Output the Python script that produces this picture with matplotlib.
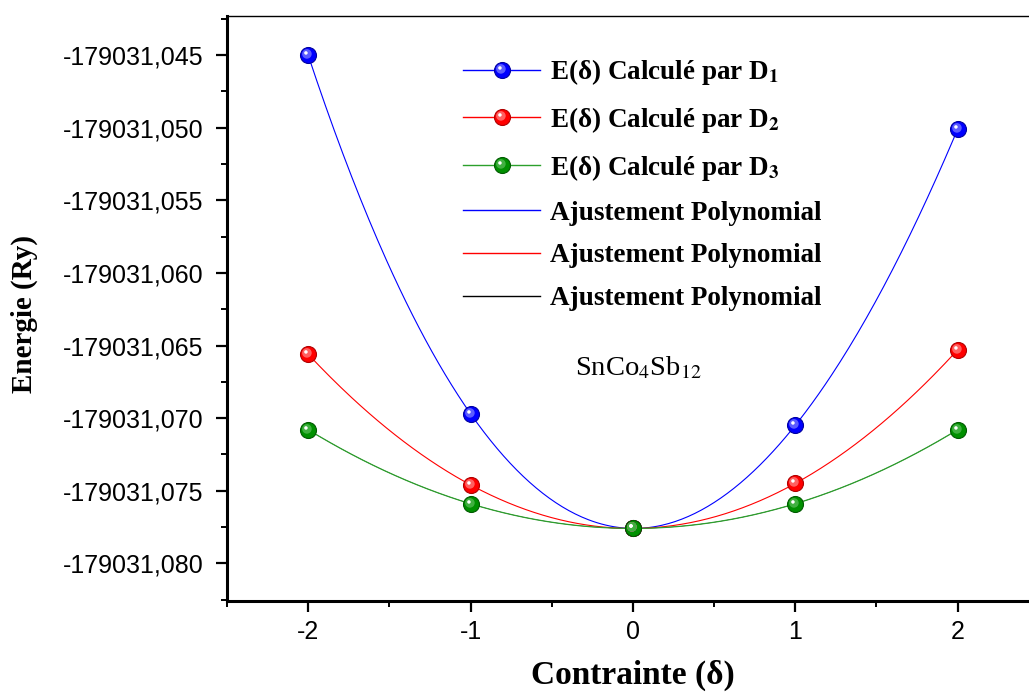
import numpy as np
import matplotlib
matplotlib.use("Agg")
import matplotlib.pyplot as plt
from matplotlib.path import Path
from matplotlib.lines import Line2D
from matplotlib.legend_handler import HandlerTuple
from matplotlib.ticker import FixedLocator, FuncFormatter

plt.rcParams['mathtext.fontset'] = 'stix'

# ---------------- data ----------------
strain = [-2, -1, 0, 1, 2]
E_D1 = [-179031.0450, -179031.0697, -179031.0776, -179031.0705, -179031.0501]
E_D2 = [-179031.0656, -179031.0746, -179031.0776, -179031.0745, -179031.0653]
E_D3 = [-179031.0708, -179031.0759, -179031.0776, -179031.0759, -179031.0708]
yticks = [-179031.045, -179031.050, -179031.055, -179031.060,
          -179031.065, -179031.070, -179031.075, -179031.080]
xticks = [-2, -1, 0, 1, 2]
series_labels = ['E(δ) Calculé par D$_\\mathbf{1}$',
                 'E(δ) Calculé par D$_\\mathbf{2}$',
                 'E(δ) Calculé par D$_\\mathbf{3}$']
fit_label = 'Ajustement Polynomial'
E0 = -179031.0

W, H = 1029, 693
fig = plt.figure(figsize=(W / 100, H / 100), dpi=100)
ax = fig.add_axes([227 / W, 1 - 601 / H, (1038.8 - 227) / W, (601 - 16) / H])

base_cols = ['#0000ff', '#ff0000', '#009000']
edge_cols = ['#0000a0', '#b00000', '#005a00']
mid_cols = ['#5c5cff', '#ff6060', '#40b040']
line_cols = ['#0000ff', '#ff0000', '#2ca02c']
fit_cols = ['#0000ff', '#ff0000', '#000000']


def offset_circle(cx, cy, r):
    c = Path.circle((cx, cy), r)
    anchor = Path([[0.5, 0.5]], [Path.MOVETO])
    return Path.make_compound_path(anchor, c)


mid_marker = offset_circle(-0.10, 0.10, 0.30)
hi_marker = offset_circle(-0.16, 0.16, 0.11)
ms = 11.5

datasets = [E_D1, E_D2, E_D3]
xf = np.linspace(min(strain), max(strain), 300)
fit_handles = []
series_handles = []
for i, E in enumerate(datasets):
    dy = np.array(E) - E0
    coef = np.polyfit(strain, dy, 4)
    yf = np.polyval(coef, xf) + E0
    if i == 2:
        ax.plot(xf, yf, color=fit_cols[i], lw=0.3, zorder=1.5)
        ax.plot(xf, yf, color=line_cols[i], lw=0.9, zorder=2.5)
    else:
        ax.plot(xf, yf, color=fit_cols[i], lw=0.8, zorder=2)
    fit_handles.append(Line2D([], [], color=fit_cols[i], lw=1.0))

for i, E in enumerate(datasets):
    ax.plot(strain, E, 'o', ms=ms, mfc=base_cols[i], mec=edge_cols[i], mew=0.8, zorder=5)
    ax.plot(strain, E, ls='none', marker=mid_marker, ms=ms, mfc=mid_cols[i], mew=0, zorder=6)
    ax.plot(strain, E, ls='none', marker=hi_marker, ms=ms, mfc='white', mew=0, zorder=7)
    h1 = Line2D([], [], color=line_cols[i], lw=1.0, marker='o', ms=ms,
                mfc=base_cols[i], mec=edge_cols[i], mew=0.8)
    h2 = Line2D([], [], ls='none', marker=mid_marker, ms=ms, mfc=mid_cols[i], mew=0)
    h3 = Line2D([], [], ls='none', marker=hi_marker, ms=ms, mfc='white', mew=0)
    series_handles.append((h1, h2, h3))

ax.set_xlim(-2.5, 2.5)
ax.set_ylim(-179031.0826, -179031.0423)

ax.xaxis.set_major_locator(FixedLocator(xticks))
ax.xaxis.set_minor_locator(FixedLocator([v + 0.5 for v in [-3] + xticks]))
ax.yaxis.set_major_locator(FixedLocator(yticks))
ax.yaxis.set_minor_locator(FixedLocator([v + 0.0025 for v in yticks] + [yticks[-1] - 0.0025]))
ax.xaxis.set_major_formatter(FuncFormatter(lambda v, p: f"{v:g}"))
ax.yaxis.set_major_formatter(FuncFormatter(lambda v, p: f"{v:.3f}".replace('.', ',')))

ax.spines['right'].set_visible(False)
ax.spines['top'].set_linewidth(1.0)
ax.spines['left'].set_linewidth(2.2)
ax.spines['bottom'].set_linewidth(2.2)
ax.tick_params(which='major', direction='out', length=8, width=1.6,
               labelsize=18, top=False, right=False)
ax.tick_params(axis='y', which='major', pad=9)
ax.tick_params(axis='x', which='major', pad=6)
ax.tick_params(which='minor', direction='out', length=4.5, width=1.4, top=False, right=False)
for lab in ax.get_xticklabels() + ax.get_yticklabels():
    lab.set_fontfamily('Liberation Sans')

ax.set_xlabel('Contrainte (δ)', fontfamily='Liberation Serif', fontweight='bold', fontsize=24)
ax.set_ylabel('Energie (Ry)', fontfamily='Liberation Serif', fontweight='bold', fontsize=21)
ax.xaxis.set_label_coords(0.5, -0.100)
ax.yaxis.set_label_coords(-0.233, 0.49)

ax.text(575 / W, 1 - 368 / H, 'SnCo$_4$Sb$_{12}$', transform=fig.transFigure,
        fontfamily='Liberation Serif', fontsize=20.5, va='center', ha='left')

handles = series_handles + fit_handles
labels = series_labels + [fit_label] * 3
leg = ax.legend(handles, labels, handler_map={tuple: HandlerTuple(ndivide=1)},
                loc='upper left', bbox_to_anchor=(463 / W, 1 - 57 / H),
                bbox_transform=fig.transFigure, frameon=False, borderpad=0,
                borderaxespad=0, handlelength=2.85, handletextpad=0.37,
                labelspacing=0.66, numpoints=1,
                prop={'family': 'Liberation Serif', 'weight': 'bold', 'size': 19.5})

fig.savefig('out.png', dpi=100)
